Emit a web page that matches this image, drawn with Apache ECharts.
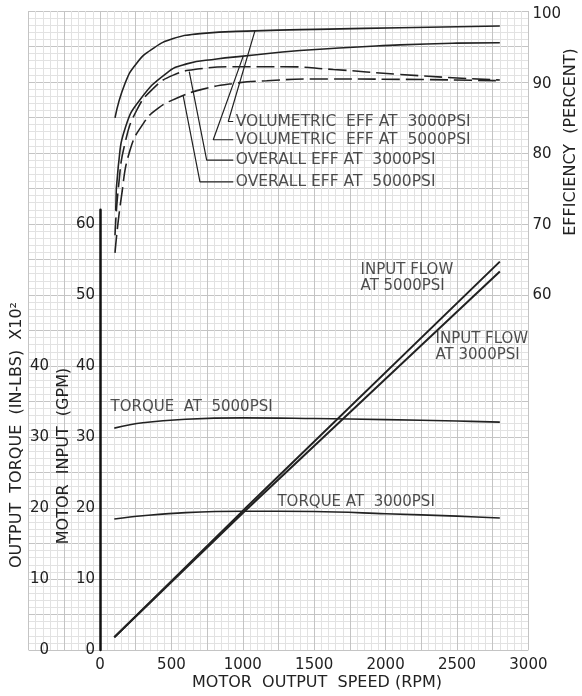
<!DOCTYPE html>
<html><head><meta charset="utf-8">
<script src="https://cdn.jsdelivr.net/npm/echarts@6/dist/echarts.min.js"></script>
<style>html,body{margin:0;padding:0;background:#fff}#c{width:582px;height:696px}</style>
</head><body><div id="c"></div><script>
// ---------- data ----------
const rpmTicks = [0, 500, 1000, 1500, 2000, 2500, 3000];
const gpmTicks = [0, 10, 20, 30, 40, 50, 60];
const torqueTicks = [0, 10, 20, 30, 40];
const effTicks = [60, 70, 80, 90, 100];

const flowSpeed = [100, 1000, 2800];
const flow3000 = [1.8, 19.3, 53.3];
const flow5000 = [1.8, 19.6, 54.7];

const torqueSpeed = [100, 300, 600, 1000, 1500, 2000, 2500, 2800];
const torque3000 = [18.45, 18.9, 19.35, 19.55, 19.5, 19.2, 18.85, 18.6];
const torque5000 = [31.25, 32.0, 32.5, 32.7, 32.6, 32.45, 32.25, 32.1];

const volEff3000Speed = [105, 175, 257, 372, 513, 700, 1085, 1600, 2100, 2800];
const volEff3000 = [85.2, 90.1, 93.0, 95.1, 96.5, 97.2, 97.6, 97.85, 98.05, 98.3];

const volEff5000Speed = [110, 128, 180, 280, 467, 607, 817, 1003, 1400, 2100, 2500, 2800];
const volEff5000 = [72, 78.3, 84, 87.8, 91.6, 92.9, 93.6, 94.0, 94.8, 95.6, 95.85, 95.9];

const ovEff3000Speed = [105, 130, 175, 257, 373, 513, 700, 933, 1283, 1634, 2100, 2500, 2800];
const ovEff3000 = [68.5, 75.5, 81.6, 86.3, 89.4, 91.3, 92.2, 92.5, 92.5, 92.1, 91.4, 90.9, 90.6];

const ovEff5000Speed = [105, 150, 210, 303, 408, 548, 700, 933, 1167, 1517, 2100, 2800];
const ovEff5000 = [66, 74, 80.6, 84.4, 86.6, 88.1, 89.2, 90.1, 90.5, 90.75, 90.7, 90.5];

// annotation leaders (rpm, efficiency)
const leaderVol3000 = [[1085, 97.6], [898, 84.7], [933, 84.7]];
const leaderVol5000 = [[1003, 94.0], [793, 82.1], [933, 82.1]];
const leaderOv3000 = [[625, 91.8], [747, 79.2], [933, 79.2]];
const leaderOv5000 = [[583, 88.3], [700, 76.1], [933, 76.1]];
const effLabels = ['VOLUMETRIC  EFF AT  3000PSI', 'VOLUMETRIC  EFF AT  5000PSI', 'OVERALL EFF AT  3000PSI', 'OVERALL EFF AT  5000PSI'];

// annotation anchors in (rpm, GPM) units
const flowLabels = [
  {name: 'INPUT FLOW\nAT 5000PSI', value: [1821, 52.4]},
  {name: 'INPUT FLOW\nAT 3000PSI', value: [2346, 42.6]},
  {name: 'TORQUE  AT  5000PSI', value: [70, 34.2]},
  {name: 'TORQUE AT  3000PSI', value: [1239, 20.85]}
];

// ---------- chart ----------
const FONT = 'DejaVu Sans';
const INK = '#222';
const pairs = (xs, ys) => xs.map((x, i) => [x, ys[i]]);
const chart = echarts.init(document.getElementById('c'), null, {renderer: 'canvas'});

const hiddenAxis = {axisLine: {show: false}, axisTick: {show: false}, axisLabel: {show: false}, splitLine: {show: false}};
const paperAxis = {
  axisLine: {show: false}, axisTick: {show: false}, axisLabel: {show: false},
  splitLine: {show: true, lineStyle: {color: '#c4c4c4', width: 1}},
  minorTick: {show: false, splitNumber: 5},
  minorSplitLine: {show: true, lineStyle: {color: '#e2e2e2', width: 1}}
};
const tickFont = {color: INK, fontSize: 15, fontFamily: FONT};

function effLine(xs, ys, dashed) {
  return {type: 'line', xAxisIndex: 2, yAxisIndex: 3, data: pairs(xs, ys), showSymbol: false, symbol: 'none',
    smooth: 0.5, silent: true, z: 3,
    lineStyle: {color: INK, width: 1.6, type: dashed ? [18, 6] : 'solid'}};
}
function leader(pts) {
  return {type: 'line', xAxisIndex: 2, yAxisIndex: 3, data: pts, symbol: 'none', silent: true, z: 3,
    lineStyle: {color: INK, width: 1.2}};
}
const titleStyle = t => ({text: t, fill: INK, font: '16px "DejaVu Sans"', textAlign: 'center', textVerticalAlign: 'middle'});

const option = {
  backgroundColor: '#ffffff',
  animation: false,
  grid: [
    {left: 28.6, right: 53.6, top: 11, bottom: 46},
    {left: 100, right: 53.6, top: 209.8, bottom: 46},
    {left: 100, right: 53.6, top: 14, bottom: 401}
  ],
  xAxis: [
    Object.assign({gridIndex: 0, type: 'value', min: -500, max: 3000, interval: 250}, paperAxis),
    {gridIndex: 1, type: 'value', min: rpmTicks[0], max: rpmTicks[rpmTicks.length - 1], interval: 500,
      axisLine: {show: false}, axisTick: {show: false}, splitLine: {show: false},
      axisLabel: Object.assign({margin: 8, formatter: v => rpmTicks.includes(v) ? String(v) : ''}, tickFont)},
    Object.assign({gridIndex: 2, type: 'value', min: 0, max: 3000}, hiddenAxis)
  ],
  yAxis: [
    Object.assign({gridIndex: 0, type: 'value', min: 0, max: 90, interval: 5}, paperAxis),
    {gridIndex: 1, type: 'value', min: 0, max: 62, interval: 10, position: 'left',
      axisLine: {show: true, lineStyle: {color: '#111', width: 2.5}}, axisTick: {show: false}, splitLine: {show: false},
      axisLabel: Object.assign({margin: 5, formatter: v => gpmTicks.includes(v) ? String(v) : ''}, tickFont)},
    {gridIndex: 1, type: 'value', min: 0, max: 62, interval: 10, position: 'left', offset: 46,
      axisLine: {show: false}, axisTick: {show: false}, splitLine: {show: false},
      axisLabel: Object.assign({margin: 5, formatter: v => torqueTicks.includes(v) ? String(v) : ''}, tickFont)},
    {gridIndex: 2, type: 'value', min: 60, max: 100, interval: 10, position: 'right',
      axisLine: {show: false}, axisTick: {show: false}, splitLine: {show: false},
      axisLabel: Object.assign({margin: 4, formatter: v => effTicks.includes(v) ? String(v) : ''}, tickFont)}
  ],
  series: [
    {type: 'line', xAxisIndex: 1, yAxisIndex: 1, data: pairs(flowSpeed, flow3000), symbol: 'none', silent: true, z: 3,
      lineStyle: {color: INK, width: 2}},
    {type: 'line', xAxisIndex: 1, yAxisIndex: 1, data: pairs(flowSpeed, flow5000), symbol: 'none', silent: true, z: 3,
      lineStyle: {color: INK, width: 2}},
    {type: 'line', xAxisIndex: 1, yAxisIndex: 2, data: pairs(torqueSpeed, torque3000), symbol: 'none', smooth: 0.4, silent: true, z: 3,
      lineStyle: {color: INK, width: 1.6}},
    {type: 'line', xAxisIndex: 1, yAxisIndex: 2, data: pairs(torqueSpeed, torque5000), symbol: 'none', smooth: 0.4, silent: true, z: 3,
      lineStyle: {color: INK, width: 1.6}},
    effLine(volEff3000Speed, volEff3000, false),
    effLine(volEff5000Speed, volEff5000, false),
    effLine(ovEff3000Speed, ovEff3000, true),
    effLine(ovEff5000Speed, ovEff5000, true),
    leader(leaderVol3000), leader(leaderVol5000), leader(leaderOv3000), leader(leaderOv5000),
    {type: 'scatter', xAxisIndex: 2, yAxisIndex: 3, symbolSize: 1, silent: true, z: 4, itemStyle: {color: 'rgba(0,0,0,0)'},
      data: [leaderVol3000, leaderVol5000, leaderOv3000, leaderOv5000].map((l, i) => ({name: effLabels[i], value: l[2]})),
      label: {show: true, position: 'right', distance: 2, formatter: '{b}', color: INK, fontSize: 15.5, fontFamily: FONT}},
    {type: 'scatter', xAxisIndex: 1, yAxisIndex: 1, symbolSize: 1, silent: true, z: 4, itemStyle: {color: 'rgba(0,0,0,0)'},
      data: flowLabels,
      label: {show: true, position: 'right', distance: 0, formatter: '{b}', color: INK, fontSize: 15, lineHeight: 16, fontFamily: FONT, align: 'left'}}
  ],
  graphic: [
    {type: 'text', z: 100, x: 317, y: 683, style: titleStyle('MOTOR  OUTPUT  SPEED (RPM)')},
    {type: 'text', z: 100, x: 17, y: 435, rotation: Math.PI / 2, style: titleStyle('OUTPUT  TORQUE  (IN-LBS)  X10²')},
    {type: 'text', z: 100, x: 64, y: 456, rotation: Math.PI / 2, style: titleStyle('MOTOR  INPUT  (GPM)')},
    {type: 'text', z: 100, x: 571, y: 142, rotation: Math.PI / 2, style: titleStyle('EFFICIENCY  (PERCENT)')}
  ]
};
chart.setOption(option);
</script></body></html>
